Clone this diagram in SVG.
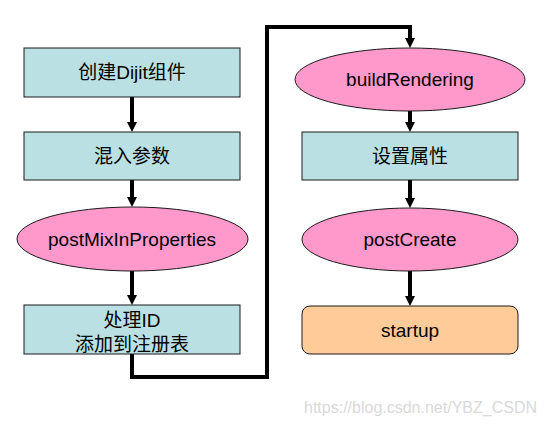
<svg xmlns="http://www.w3.org/2000/svg" width="545" height="426" viewBox="0 0 545 426">
<style>
.box{fill:#BBE0E3;stroke:#1a1a1a;stroke-width:1}
.ell{fill:#FF99CC;stroke:#1a1a1a;stroke-width:1}
.start{fill:#FFCC99;stroke:#1a1a1a;stroke-width:1}
.t{font-family:"Liberation Sans","Noto Sans CJK SC",Arial,sans-serif;font-size:19px;fill:#000;text-anchor:middle}
.c{fill:none;stroke:#000;stroke-width:4}
.wm{font-family:"Liberation Sans",Arial,sans-serif;font-size:16px;fill:#d9d9d9}
</style>
<defs>
<marker id="ah" markerUnits="userSpaceOnUse" markerWidth="10" markerHeight="10" refX="2" refY="5" orient="auto" overflow="visible">
<path d="M0,0 L10,5 L0,10 z" fill="#000"/>
</marker>
</defs>
<g id="connectors">
<line class="c" x1="132" y1="97" x2="132" y2="124" marker-end="url(#ah)"/>
<line class="c" x1="132" y1="180" x2="132" y2="199" marker-end="url(#ah)"/>
<line class="c" x1="132" y1="271" x2="132" y2="297" marker-end="url(#ah)"/>
<polyline class="c" points="132,354 132,377 267,377 267,27 410,27 410,40" marker-end="url(#ah)"/>
<line class="c" x1="410" y1="111" x2="410" y2="124" marker-end="url(#ah)"/>
<line class="c" x1="410" y1="180" x2="410" y2="200" marker-end="url(#ah)"/>
<line class="c" x1="410" y1="271" x2="410" y2="298" marker-end="url(#ah)"/>
</g>
<g id="create">
<rect class="box" x="24" y="48" width="216" height="49"/>
<text class="t" x="132" y="79">创建Dijit组件</text>
</g>
<g id="mixin">
<rect class="box" x="24" y="132" width="216" height="48"/>
<text class="t" x="132" y="163">混入参数</text>
</g>
<g id="postMixInProperties">
<ellipse class="ell" cx="132.5" cy="239" rx="115.5" ry="32"/>
<text class="t" x="132" y="246">postMixInProperties</text>
</g>
<g id="handleId">
<rect class="box" x="24" y="305" width="216" height="49"/>
<text class="t" x="132" y="327">处理ID</text>
<text class="t" x="132" y="351">添加到注册表</text>
</g>
<g id="buildRendering">
<ellipse class="ell" cx="410" cy="79.5" rx="115" ry="31.5"/>
<text class="t" x="410" y="86">buildRendering</text>
</g>
<g id="setAttrs">
<rect class="box" x="302" y="132" width="216" height="48"/>
<text class="t" x="410" y="163">设置属性</text>
</g>
<g id="postCreate">
<ellipse class="ell" cx="410" cy="239.5" rx="108" ry="31.5"/>
<text class="t" x="410" y="246">postCreate</text>
</g>
<g id="startup">
<rect class="start" x="302" y="306" width="216" height="48" rx="8" ry="8"/>
<text class="t" x="410" y="337">startup</text>
</g>
<text class="wm" x="304" y="413">https://blog.csdn.net/YBZ_CSDN</text>
</svg>
